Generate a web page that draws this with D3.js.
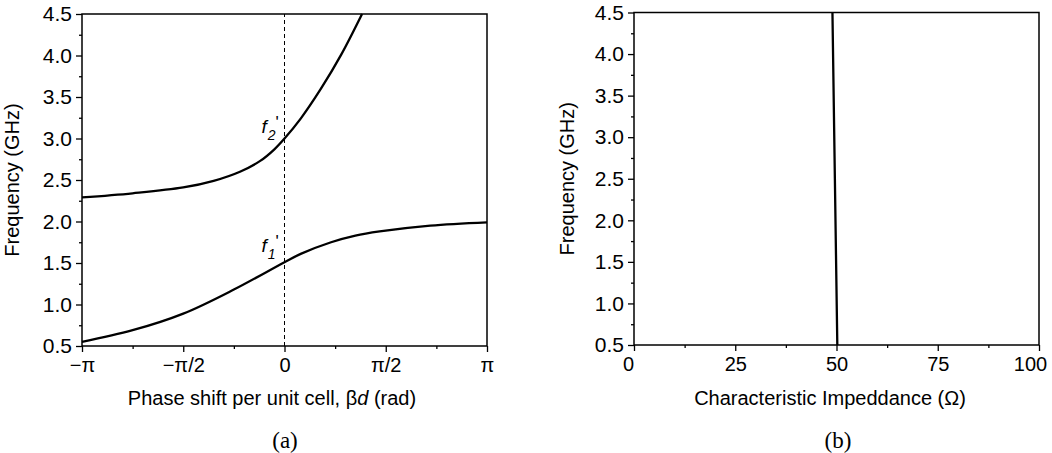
<!DOCTYPE html>
<html>
<head>
<meta charset="utf-8">
<script src="https://cdn.jsdelivr.net/npm/d3@7"></script>
<style>
body { margin: 0; background: #fff; }
text { font-family: "Liberation Sans", Arial, sans-serif; fill: #000; }
</style>
</head>
<body>
<div id="chart"></div>
<script>
// phase in units of pi, frequency in GHz
var lower_phase = [-1, -0.75, -0.5, -0.25, 0, 0.08, 0.23, 0.35, 0.47, 0.72, 1];
var lower_freq = [0.55, 0.69, 0.89, 1.18, 1.51, 1.61, 1.75, 1.83, 1.88, 1.95, 1.99];
var upper_phase = [-1, -0.75, -0.5, -0.35, -0.22, -0.12, -0.05, 0, 0.08, 0.18, 0.28, 0.383];
var upper_freq = [2.29, 2.34, 2.41, 2.49, 2.60, 2.73, 2.87, 3.0, 3.24, 3.60, 4.01, 4.5];
var phase_ticks = [-1, -0.5, 0, 0.5, 1];
var phase_tick_labels = ["\u2212\u03c0", "\u2212\u03c0/2", "0", "\u03c0/2", "\u03c0"];
var freq_ticks = [0.5, 1.0, 1.5, 2.0, 2.5, 3.0, 3.5, 4.0, 4.5];
// right panel
var imp_freq = [0.5, 2.5, 4.5];
var imp_value = [50.2, 49.6, 49.0];
var imp_ticks = [0, 25, 50, 75, 100];

var width = 1052, height = 453;
var svg = d3.select("#chart").append("svg")
	.attr("width", width)
	.attr("height", height);

function drawFrame(g, x_scale, y_scale, x_major, x_minor, x_fmt, y_major, y_minor) {
	var x0 = x_scale.range()[0], x1 = x_scale.range()[1];
	var y0 = y_scale.range()[0], y1 = y_scale.range()[1];

	var xAxis = g.append("g").attr("class", "x_major").attr("transform", "translate(0," + y0 + ")")
		.call(d3.axisBottom(x_scale).tickValues(x_major).tickSize(6).tickPadding(6).tickFormat(x_fmt));
	g.append("g").attr("transform", "translate(0," + y0 + ")")
		.call(d3.axisBottom(x_scale).tickValues(x_minor).tickSize(3).tickFormat(""));
	var yAxis = g.append("g").attr("class", "y_major").attr("transform", "translate(" + x0 + ",0)")
		.call(d3.axisLeft(y_scale).tickValues(y_major).tickSize(6).tickPadding(4).tickFormat(d3.format(".1f")));
	g.append("g").attr("transform", "translate(" + x0 + ",0)")
		.call(d3.axisLeft(y_scale).tickValues(y_minor).tickSize(3).tickFormat(""));

	g.selectAll(".domain").remove();
	g.selectAll(".tick line").attr("stroke", "#000").attr("stroke-width", 1.3);
	g.selectAll(".tick text").attr("font-size", "20px").attr("font-family", "Liberation Sans, Arial, sans-serif").attr("fill", "#000");
	yAxis.selectAll(".tick text").attr("font-size", "21px");

	g.append("rect")
		.attr("x", x0).attr("y", y1)
		.attr("width", x1 - x0).attr("height", y0 - y1)
		.attr("fill", "none").attr("stroke", "#000").attr("stroke-width", 1.5);
	return xAxis;
}

// ---------- panel (a) ----------
var xa = d3.scaleLinear().domain([-1, 1]).range([82, 487]);
var ya = d3.scaleLinear().domain([0.5, 4.5]).range([346, 14]);
var ga = svg.append("g");

ga.append("line")
	.attr("x1", xa(0)).attr("x2", xa(0))
	.attr("y1", ya(0.5)).attr("y2", ya(4.5))
	.attr("stroke", "#000").attr("stroke-width", 1)
	.attr("stroke-dasharray", "4,3");

var line_a = d3.line()
	.x(function(d) { return xa(d[0]); })
	.y(function(d) { return ya(d[1]); })
	.curve(d3.curveCatmullRom.alpha(0.5));

ga.append("path")
	.datum(d3.zip(lower_phase, lower_freq))
	.attr("d", line_a)
	.attr("fill", "none").attr("stroke", "#000").attr("stroke-width", 2.3);
ga.append("path")
	.datum(d3.zip(upper_phase, upper_freq))
	.attr("d", line_a)
	.attr("fill", "none").attr("stroke", "#000").attr("stroke-width", 2.3);

drawFrame(ga, xa, ya,
	phase_ticks, [-0.75, -0.25, 0.25, 0.75],
	function(d, i) { return phase_tick_labels[i]; },
	freq_ticks, [0.75, 1.25, 1.75, 2.25, 2.75, 3.25, 3.75, 4.25]);

// f' labels
function fLabel(g, x, y, sub) {
	var t = g.append("text")
		.attr("x", x).attr("y", y)
		.attr("font-size", "19px")
		.attr("font-style", "italic");
	t.append("tspan").text("f");
	t.append("tspan").attr("font-size", "14px").attr("dy", 7).attr("dx", 1).text(sub);
	t.append("tspan").attr("font-size", "17px").attr("dy", -12).attr("dx", 0).attr("font-style", "normal").text("'");
}
fLabel(ga, xa(0) - 23, ya(3.0) - 6, "2");
fLabel(ga, xa(0) - 23, ya(1.51) - 10, "1");

ga.append("text")
	.attr("x", 272).attr("y", 405)
	.attr("text-anchor", "middle")
	.attr("font-size", "20px")
	.html("Phase shift per unit cell, \u03b2<tspan font-style='italic'>d</tspan> (rad)");
ga.append("text")
	.attr("transform", "translate(19," + ((ya(0.5) + ya(4.5)) / 2) + ") rotate(-90)")
	.attr("text-anchor", "middle")
	.attr("font-size", "20px")
	.text("Frequency (GHz)");
ga.append("text")
	.attr("x", 285).attr("y", 448)
	.attr("text-anchor", "middle")
	.attr("font-size", "23px")
	.style("font-family", "'Liberation Serif', 'Times New Roman', serif")
	.text("(a)");

// ---------- panel (b) ----------
var xb = d3.scaleLinear().domain([0, 100]).range([634, 1039]);
var yb = d3.scaleLinear().domain([0.5, 4.5]).range([345, 12.5]);
var gb = svg.append("g");

var line_b = d3.line()
	.x(function(d) { return xb(d[0]); })
	.y(function(d) { return yb(d[1]); });
gb.append("path")
	.datum(d3.zip(imp_value, imp_freq))
	.attr("d", line_b)
	.attr("fill", "none").attr("stroke", "#000").attr("stroke-width", 2.3);

var xb_axis = drawFrame(gb, xb, yb,
	imp_ticks, [12.5, 37.5, 62.5, 87.5],
	d3.format("d"),
	freq_ticks, [0.75, 1.25, 1.75, 2.25, 2.75, 3.25, 3.75, 4.25]);
// end labels sit inside the frame edges as in the original
xb_axis.selectAll(".tick text")
	.attr("dx", function(d) { return d == 0 ? -6 : (d == 100 ? -9 : 0); });

gb.append("text")
	.attr("x", 830).attr("y", 405)
	.attr("text-anchor", "middle")
	.attr("font-size", "20px")
	.text("Characteristic Impeddance (\u03a9)");
gb.append("text")
	.attr("transform", "translate(574," + ((yb(0.5) + yb(4.5)) / 2) + ") rotate(-90)")
	.attr("text-anchor", "middle")
	.attr("font-size", "20px")
	.text("Frequency (GHz)");
gb.append("text")
	.attr("x", 838).attr("y", 448)
	.attr("text-anchor", "middle")
	.attr("font-size", "23px")
	.style("font-family", "'Liberation Serif', 'Times New Roman', serif")
	.text("(b)");
</script>
</body>
</html>
